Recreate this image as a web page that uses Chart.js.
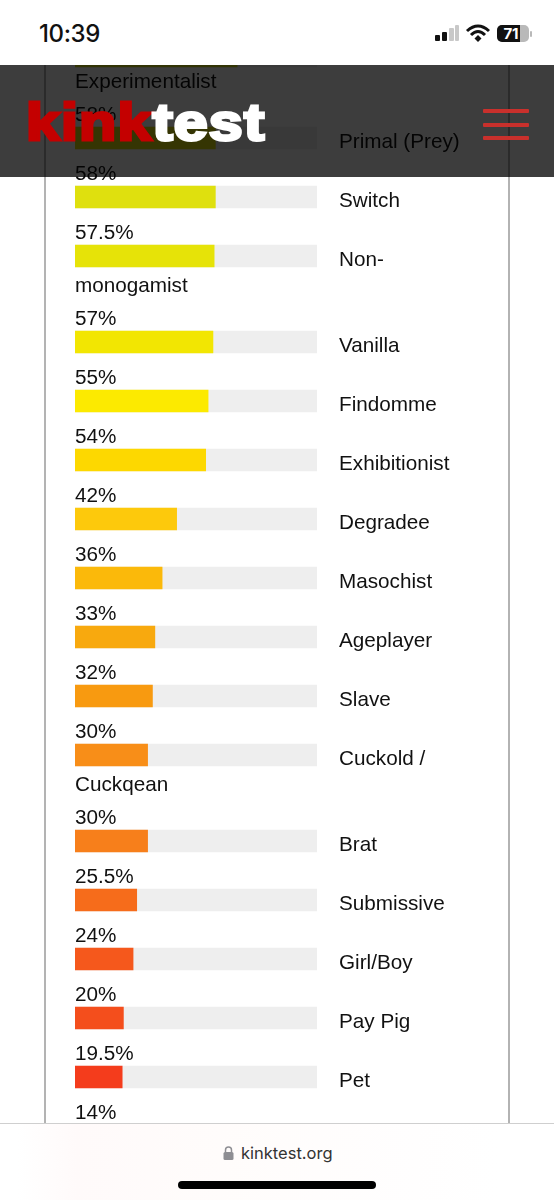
<!DOCTYPE html>
<html>
<head>
<meta charset="utf-8">
<title>kinktest</title>
<script src="https://cdn.jsdelivr.net/npm/chart.js@4"></script>
<style>
html, body { margin: 0; padding: 0; background: #fff; }
body { position: relative; width: 554px; height: 1200px; overflow: hidden; font-family: "Liberation Sans", Arial, sans-serif; }
#myChart, .rule, .status, .header, .footer { position: absolute; }
#myChart { left: 0; top: 0; }
.rule { top: 65px; height: 1058px; width: 2px; background: #b3b3b3; }
.status { left: 0; top: 0; width: 554px; height: 65px; background: #fff; }
.time { position: absolute; left: 39px; top: 20px; font: 500 24px/28px Inter, "Liberation Sans", sans-serif; color: #111; letter-spacing: -0.4px; }
.header { left: 0; top: 65px; width: 554px; height: 112px; background: rgba(0, 0, 0, 0.76); }
.logo { position: absolute; left: 26px; top: 27px; font: bold 52px/60px "Liberation Sans", Arial, sans-serif; letter-spacing: 1px; white-space: nowrap; -webkit-text-stroke: 3px currentColor; transform: scaleX(1.17); transform-origin: left top; }
.logo .a { color: #c40000; }
.logo .b { color: #fff; }
.burger { position: absolute; left: 483px; width: 46px; height: 4px; background: #c9302c; border-radius: 1px; }
.footer { left: 0; top: 1123px; width: 554px; height: 77px; border-top: 1px solid #cfcfcf; box-sizing: border-box; background: linear-gradient(90deg, #fff 3%, #fffafa 14%, #fffcfb 40%, #fffefe 75%, #fff 90%); }
.url { position: absolute; left: 241px; top: 18px; font: 16.5px/22px Inter, "Liberation Sans", sans-serif; color: #333; }
.home { position: absolute; left: 178px; top: 57px; width: 198px; height: 8px; border-radius: 4px; background: #000; }
</style>
</head>
<body>
<div class="rule" style="left:44px"></div>
<div class="rule" style="left:508px"></div>
<canvas id="myChart" width="554" height="1200"></canvas>

<div class="status">
  <div class="time">10:39</div>
  <svg style="position:absolute;left:434px;top:24px" width="100" height="20" viewBox="0 0 100 20">
    <rect x="1" y="11" width="5" height="6" rx="1" fill="#111"/>
    <rect x="8" y="8" width="5" height="9" rx="1" fill="#111"/>
    <rect x="15" y="4" width="5" height="13" rx="1" fill="#c8c8c8"/>
    <rect x="21" y="1" width="4" height="16" rx="1" fill="#c8c8c8"/>
    <path d="M33 7 Q44 -3 55 7" fill="none" stroke="#111" stroke-width="3"/>
    <path d="M37 11 Q44 4 51 11" fill="none" stroke="#111" stroke-width="3"/>
    <path d="M40.5 14.5 L44 11 L47.5 14.5 L44 18 Z" fill="#111"/>
    <rect x="63" y="1" width="32" height="17" rx="5" fill="#b9b9b9"/>
    <path d="M68 1 H86 V18 H68 A5 5 0 0 1 63 13 V6 A5 5 0 0 1 68 1 Z" fill="#111"/>
    <rect x="96" y="7" width="2" height="6" rx="1" fill="#b9b9b9"/>
    <text x="77" y="15" font-family="Inter, Liberation Sans" font-weight="700" font-size="15" fill="#fff" text-anchor="middle">71</text>
  </svg>
</div>

<div class="header">
  <div class="logo"><span class="a">kink</span><span class="b">test</span></div>
  <div class="burger" style="top:44px"></div>
  <div class="burger" style="top:58px"></div>
  <div class="burger" style="top:71px"></div>
</div>

<div class="footer">
  <svg style="position:absolute;left:223px;top:22px" width="11" height="14" viewBox="0 0 11 14">
    <path d="M2.5 6 V4 A3 3 0 0 1 8.5 4 V6" fill="none" stroke="#8e8e93" stroke-width="1.5"/>
    <rect x="0.5" y="6" width="10" height="8" rx="1.5" fill="#8e8e93"/>
  </svg>
  <div class="url">kinktest.org</div>
  <div class="home"></div>
</div>

<script>
// "\n" marks where the label wraps under the bar
const categories = ['\nExperimentalist', 'Primal (Prey)', 'Switch', 'Non-\nmonogamist', 'Vanilla', 'Findomme',
    'Exhibitionist', 'Degradee', 'Masochist', 'Ageplayer', 'Slave', 'Cuckold /\nCuckqean', 'Brat',
    'Submissive', 'Girl/Boy', 'Pay Pig', 'Pet', ''];
const percents = [67, 58, 58, 57.5, 57, 55, 54, 42, 36, 33, 32, 30, 30, 25.5, 24, 20, 19.5, 14];
const trackMax = 100;

const barColors = ['#cfd914', '#dbdc10', '#dfe00e', '#e6e308', '#f2e602', '#fcea00', '#fdd800', '#fdc90c', '#fbb90a',
    '#f8a90e', '#f89a10', '#f88e18', '#f77f1b', '#f66c1b', '#f5581c', '#f44e1c', '#f43c1c', '#f0301c'];

const firstTop = 45;
const rowPitch = 59;
const wrapExtra = 27;
const barHeight = 22;
const textFont = '20.7px "Liberation Sans", Arial, sans-serif';

// y scale runs in page pixels, each row's place follows from the row above it
const rowTops = [];
categories.forEach((name, i) => {
    if (i === 0) rowTops.push(firstTop);
    else if (i === 1) rowTops.push(firstTop + rowPitch + wrapExtra - 4); // long word sits a bit tighter
    else rowTops.push(rowTops[i - 1] + rowPitch + (categories[i - 1].includes('\n') ? wrapExtra : 0));
});
const rowCentres = rowTops.map(top => top + barHeight / 2);

const rowLabels = {
    id: 'rowLabels',
    afterDatasetsDraw(chart) {
        const { ctx, scales } = chart;
        ctx.save();
        ctx.font = textFont;
        ctx.fillStyle = '#111';
        ctx.textBaseline = 'alphabetic';
        ctx.textAlign = 'left';
        percents.forEach((value, i) => {
            const top = scales.y.getPixelForValue(rowCentres[i]) - barHeight / 2;
            ctx.fillText(value + '%', scales.x.left, top - 6);
            const lines = categories[i].split('\n');
            if (lines[0]) ctx.fillText(lines[0], scales.x.right + 22, top + 21);
            if (lines[1]) ctx.fillText(lines[1], scales.x.left, scales.y.getPixelForValue(rowCentres[i + 1]) - barHeight / 2 - 39);
        });
        ctx.restore();
    }
};

const ctx = document.getElementById('myChart').getContext('2d');
const myChart = new Chart(ctx, {
    type: 'bar',
    data: {
        datasets: [{
            label: 'Score',
            data: percents.map((v, i) => ({ x: v, y: rowCentres[i] })),
            backgroundColor: barColors,
            barThickness: barHeight,
            grouped: false,
            order: 1
        }, {
            label: 'Track',
            data: percents.map((v, i) => ({ x: trackMax, y: rowCentres[i] })),
            backgroundColor: '#eeeeee',
            barThickness: barHeight,
            grouped: false,
            order: 2
        }]
    },
    options: {
        indexAxis: 'y',
        responsive: false,
        animation: false,
        layout: { padding: { left: 75, right: 237, top: 0, bottom: 0 } },
        plugins: { legend: { display: false }, tooltip: { enabled: false } },
        scales: {
            x: { type: 'linear', min: 0, max: trackMax, display: false },
            y: { type: 'linear', min: 0, max: 1200, reverse: true, offset: false, display: false }
        }
    },
    plugins: [rowLabels]
});
</script>
</body>
</html>
